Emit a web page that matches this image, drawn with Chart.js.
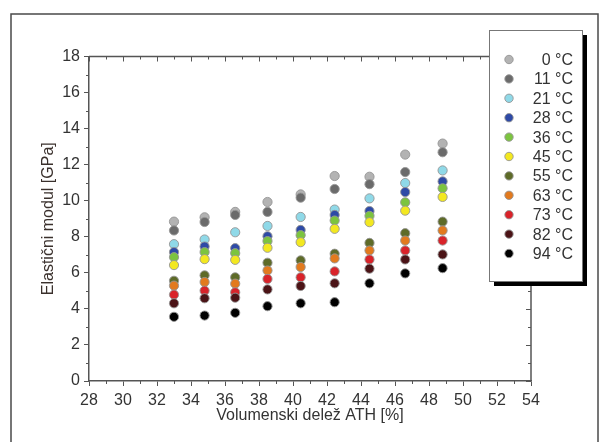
<!DOCTYPE html>
<html>
<head>
<meta charset="utf-8">
<script src="https://cdn.jsdelivr.net/npm/chart.js@4/dist/chart.umd.min.js"></script>
<style>
  html, body { margin: 0; padding: 0; background: #fff; }
  #wrap { width: 604px; height: 442px; }
</style>
</head>
<body>
<div id="wrap"><canvas id="chart" width="604" height="442"></canvas></div>
<script>
// Volume fraction of ATH (x positions of the point columns)
const volumeShare = [33.0, 34.8, 36.6, 38.5, 40.45, 42.45, 44.5, 46.6, 48.8];

const temperatures = ['0 °C', '11 °C', '21 °C', '28 °C', '36 °C', '45 °C', '55 °C', '63 °C', '73 °C', '82 °C', '94 °C'];

// Elastic modulus [GPa] per temperature
const mod0  = [8.84, 9.08, 9.38, 9.93, 10.35, 11.37, 11.33, 12.56, 13.17];
const mod11 = [8.35, 8.82, 9.21, 9.38, 10.17, 10.65, 10.92, 11.59, 12.69];
const mod21 = [7.59, 7.85, 8.25, 8.60, 9.10, 9.51, 10.13, 10.98, 11.68];
const mod28 = [7.15, 7.46, 7.37, 8.03, 8.38, 9.21, 9.43, 10.48, 11.07];
const mod36 = [6.87, 7.15, 7.09, 7.76, 8.09, 8.90, 9.16, 9.91, 10.69];
const mod45 = [6.43, 6.76, 6.72, 7.39, 7.70, 8.44, 8.81, 9.45, 10.21];
const mod55 = [5.56, 5.86, 5.75, 6.56, 6.69, 7.06, 7.66, 8.20, 8.84];
const mod63 = [5.29, 5.49, 5.40, 6.13, 6.32, 6.80, 7.24, 7.79, 8.35];
const mod73 = [4.79, 5.01, 4.92, 5.66, 5.75, 6.08, 6.74, 7.24, 7.79];
const mod82 = [4.31, 4.59, 4.62, 5.08, 5.27, 5.42, 6.23, 6.74, 7.02];
const mod94 = [3.56, 3.63, 3.78, 4.15, 4.31, 4.37, 5.42, 5.97, 6.26];

const seriesColors = ['#b3b3b3', '#6b6b6b', '#8fd9e8', '#2e4aa6', '#7cc43f', '#f3e820',
                      '#5e6b28', '#e27a1e', '#d9232a', '#4b1316', '#000000'];

const allSeries = [mod0, mod11, mod21, mod28, mod36, mod45, mod55, mod63, mod73, mod82, mod94];

const FONT = "'Liberation Sans Narrow', 'Arial Narrow', 'Liberation Sans', Arial, sans-serif";
const TEXT_COLOR = '#333333';
const AXIS_COLOR = '#555555';

const datasets = allSeries.map((values, i) => ({
    label: temperatures[i],
    data: values.map((v, j) => ({ x: volumeShare[j], y: v })),
    backgroundColor: seriesColors[i],
    borderColor: 'rgba(150,150,150,0.9)',
    borderWidth: 1,
    pointRadius: 4.6,
    pointHoverRadius: 4.6,
    order: -i
}));

// Outer frame, mirrored top/right axes, minor ticks and the boxed legend
const decorPlugin = {
    id: 'decor',
    beforeDraw(chart) {
        const ctx = chart.ctx;
        ctx.save();
        ctx.strokeStyle = '#4a4a4a';
        ctx.lineWidth = 1.5;
        ctx.strokeRect(11, 14, 587, 450);
        ctx.restore();
    },
    afterDraw(chart) {
        const ctx = chart.ctx;
        const area = chart.chartArea;
        const xs = chart.scales.x;
        const ys = chart.scales.y;
        ctx.save();
        ctx.strokeStyle = AXIS_COLOR;
        ctx.lineWidth = 1.5;
        ctx.beginPath();
        ctx.moveTo(area.left, area.top);
        ctx.lineTo(area.right, area.top);
        ctx.lineTo(area.right, area.bottom);
        ctx.stroke();

        ctx.lineWidth = 1;
        ctx.beginPath();
        for (let v = xs.min; v <= xs.max; v++) {
            const px = Math.round(xs.getPixelForValue(v)) + 0.5;
            const major = v % 2 === 0;
            ctx.moveTo(px, area.top);
            ctx.lineTo(px, area.top + (major ? 5 : 3));
            if (!major) {
                ctx.moveTo(px, area.bottom);
                ctx.lineTo(px, area.bottom + 3);
            }
        }
        for (let v = ys.min; v <= ys.max; v++) {
            const py = Math.round(ys.getPixelForValue(v)) + 0.5;
            const major = v % 2 === 0;
            ctx.moveTo(area.right, py);
            ctx.lineTo(area.right - (major ? 5 : 3), py);
            if (!major) {
                ctx.moveTo(area.left, py);
                ctx.lineTo(area.left - 3, py);
            }
        }
        ctx.stroke();

        // legend box with drop shadow
        const bx = 489, by = 30, bw = 93, bh = 251;
        ctx.fillStyle = '#000';
        ctx.fillRect(bx + 5, by + 5, bw, bh);
        ctx.fillStyle = '#fff';
        ctx.fillRect(bx, by, bw, bh);
        ctx.strokeStyle = '#777';
        ctx.lineWidth = 1;
        ctx.strokeRect(bx + 0.5, by + 0.5, bw, bh);

        ctx.font = '16px ' + FONT;
        ctx.textAlign = 'right';
        ctx.textBaseline = 'middle';
        chart.data.datasets.forEach((ds, i) => {
            const cy = 59.5 + i * 19.4;
            ctx.beginPath();
            ctx.arc(509, cy, 4.2, 0, Math.PI * 2);
            ctx.fillStyle = ds.backgroundColor;
            ctx.fill();
            ctx.strokeStyle = 'rgba(150,150,150,0.9)';
            ctx.stroke();
            ctx.fillStyle = TEXT_COLOR;
            ctx.fillText(ds.label, 573, cy + 1);
        });
        ctx.restore();
    }
};

new Chart(document.getElementById('chart'), {
    type: 'scatter',
    data: { datasets },
    options: {
        responsive: false,
        animation: false,
        devicePixelRatio: 1,
        layout: { padding: { left: 0, right: 73, top: 56.5, bottom: 0 } },
        plugins: {
            legend: { display: false },
            tooltip: { enabled: false }
        },
        scales: {
            x: {
                type: 'linear',
                min: 28,
                max: 54,
                afterFit: s => { s.height = 61; },
                ticks: {
                    stepSize: 2,
                    color: TEXT_COLOR,
                    font: { family: FONT, size: 16 },
                    padding: 5,
                    maxRotation: 0
                },
                grid: {
                    drawOnChartArea: false,
                    drawTicks: true,
                    tickLength: 5,
                    color: AXIS_COLOR,
                    lineWidth: 1
                },
                border: { display: true, color: AXIS_COLOR, width: 1.5 },
                title: {
                    display: true,
                    text: 'Volumenski delež ATH [%]',
                    color: TEXT_COLOR,
                    font: { family: FONT, size: 16 },
                    padding: { top: 0, bottom: 17 }
                }
            },
            y: {
                type: 'linear',
                min: 0,
                max: 18,
                afterFit: s => { s.width = 89; },
                ticks: {
                    stepSize: 2,
                    color: TEXT_COLOR,
                    font: { family: FONT, size: 16 },
                    padding: 4
                },
                grid: {
                    drawOnChartArea: false,
                    drawTicks: true,
                    tickLength: 5,
                    color: AXIS_COLOR,
                    lineWidth: 1
                },
                border: { display: true, color: AXIS_COLOR, width: 1.5 },
                title: {
                    display: true,
                    text: 'Elastični modul [GPa]',
                    color: '#3a302c',
                    font: { family: FONT, size: 16 },
                    padding: { top: 39, bottom: 0 }
                }
            }
        }
    },
    plugins: [decorPlugin]
});
</script>
</body>
</html>
